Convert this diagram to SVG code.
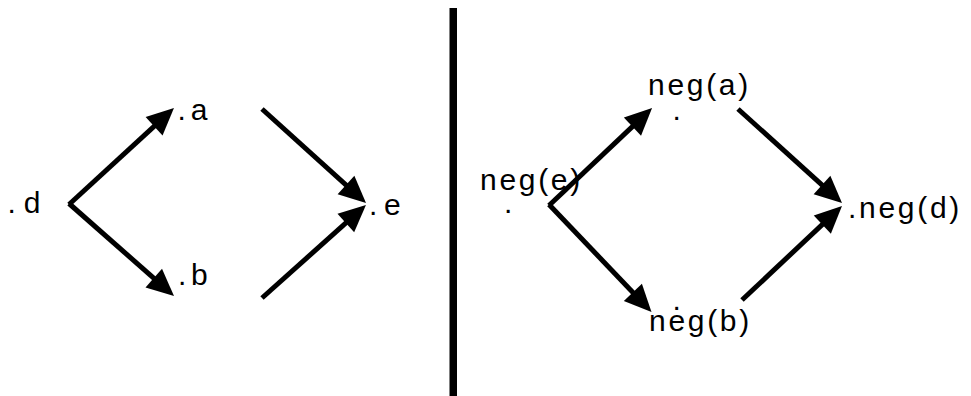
<svg xmlns="http://www.w3.org/2000/svg" width="971" height="396" viewBox="0 0 971 396">
<style>
  .lbl { font-family: "Liberation Sans", Arial, sans-serif; font-size: 30px; letter-spacing: 2.7px; fill: #000; }
  .edge { stroke: #000; stroke-width: 5; fill: none; }
</style>
<defs>
  <marker id="ah" markerUnits="userSpaceOnUse" orient="auto" refX="0" refY="0" markerWidth="30" markerHeight="30" overflow="visible">
    <path d="M10,0 L-17,-12.5 L-17,12.5 Z" fill="#000"/>
  </marker>
</defs>
<rect width="971" height="396" fill="#fff"/>
<rect id="divider" x="449.5" y="8" width="7.5" height="388" fill="#000"/>
<g id="connectors">
  <line class="edge" x1="69" y1="204.5" x2="166.6" y2="114.8" marker-end="url(#ah)"/>
  <line class="edge" x1="69" y1="203.5" x2="166.5" y2="289.4" marker-end="url(#ah)"/>
  <line class="edge" x1="262" y1="109" x2="358.6" y2="196.3" marker-end="url(#ah)"/>
  <line class="edge" x1="262" y1="298" x2="358.5" y2="211.7" marker-end="url(#ah)"/>
  <line class="edge" x1="549" y1="205.5" x2="644.8" y2="114.9" marker-end="url(#ah)"/>
  <line class="edge" x1="549" y1="204.5" x2="644.6" y2="304.7" marker-end="url(#ah)"/>
  <line class="edge" x1="738" y1="109" x2="834.6" y2="196.3" marker-end="url(#ah)"/>
  <line class="edge" x1="742" y1="300" x2="834.7" y2="212.9" marker-end="url(#ah)"/>
</g>
<g id="node-d"><text class="lbl" x="7.6" y="213">.<tspan dx="5">d</tspan></text></g>
<g id="node-a"><text class="lbl" x="177.6" y="120">.<tspan dx="2">a</tspan></text></g>
<g id="node-b"><text class="lbl" x="178" y="285">.<tspan dx="2">b</tspan></text></g>
<g id="node-e"><text class="lbl" x="369" y="215">.<tspan dx="4">e</tspan></text></g>
<g id="node-neg-e"><text class="lbl" x="480" y="190">neg(e)</text><text class="lbl" x="504" y="213">.</text></g>
<g id="node-neg-a"><text class="lbl" x="648" y="95">neg(a)</text><text class="lbl" x="672.6" y="120">.</text></g>
<g id="node-neg-b"><text class="lbl" x="649" y="331">neg(b)</text><text class="lbl" x="672.6" y="310">.</text></g>
<g id="node-neg-d"><text class="lbl" x="848" y="218">.<tspan dx="0">neg(d)</tspan></text></g>
</svg>
